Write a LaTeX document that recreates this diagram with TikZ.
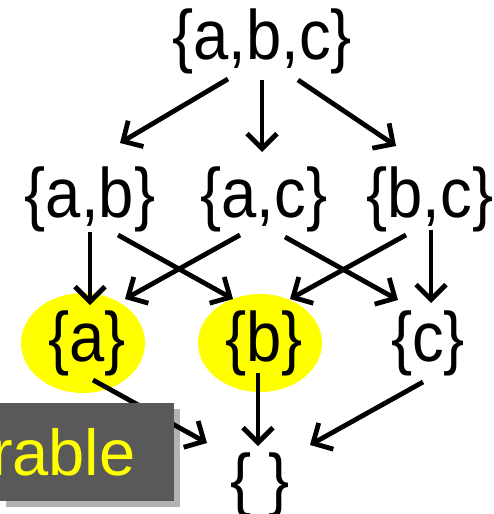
\documentclass[tikz,border=0pt]{standalone}
\usepackage{fontspec}
\setmainfont[FakeStretch=0.905]{Liberation Sans}
\newfontfamily\notefont{Liberation Sans}
\usepackage{xcolor}
\definecolor{hiyellow}{RGB}{255,255,0}
\definecolor{boxgray}{RGB}{89,89,89}
\usetikzlibrary{arrows.meta, positioning, shadows, backgrounds}

\begin{document}
\begin{tikzpicture}[x=1pt, y=-1pt, on grid,
        set/.style={inner sep=2pt, font=\fontsize{70}{76}\selectfont},
        line/.style={draw=black, line width=4.8pt, -{Straight Barb[length=15pt, width=30pt]}},
        hilite/.style={fill=hiyellow},
        note/.style={fill=boxgray, text=hiyellow, font=\notefont\fontsize{65}{70}\selectfont, minimum width=174pt, minimum height=98pt, text width=174pt, inner xsep=0pt, align=left, drop shadow={shadow xshift=6pt, shadow yshift=-6pt, fill=black, opacity=0.3}}]

    \useasboundingbox (0,0) rectangle (494,514);

    % Fila 1
    \node [set] (abc) at (262,41) {\{a,b,c\}};

    % Fila 2
    \node [set, below left=158pt and 172pt of abc] (ab) {\{a,b\}};
    \node [set, right=174pt of ab] (ac) {\{a,c\}};
    \node [set, right=166pt of ac] (bc) {\{b,c\}};

    % Fila 3
    \node [set, below left=144pt and 3pt of ab] (a) {\{a\}};
    \node [set, right=177pt of a] (b) {\{b\}};
    \node [set, right=164pt of b] (c) {\{c\}};

    % Fila 4
    \node [set, below left=142pt and 4pt of b] (empty) {\{ \}};

    % Resaltado
    \begin{scope}[on background layer]
        \fill [hilite] ([xshift=-4pt]a.center) ellipse [x radius=62pt, y radius=50pt];
        \fill [hilite] ([xshift=-4pt]b.center) ellipse [x radius=62pt, y radius=49pt];
    \end{scope}

    \path [line] ([shift={(-34,38)}]abc.center) -- ([shift={(30,-56)}]ab.center);
    \path [line] ([shift={(0,39)}]abc.center) -- ([shift={(-2,-47)}]ac.center);
    \path [line] ([shift={(36,39)}]abc.center) -- ([shift={(-34,-53)}]bc.center);

    \path [line] ([shift={(0,33)}]ab.center) -- ([shift={(3,-38)}]a.center);
    \path [line] ([shift={(28,36)}]ab.center) -- ([shift={(-31,-44)}]b.center);
    \path [line] ([shift={(-24,36)}]ac.center) -- ([shift={(38,-44)}]a.center);
    \path [line] ([shift={(21,38)}]ac.center) -- ([shift={(-30,-43)}]c.center);
    \path [line] ([shift={(-24,36)}]bc.center) -- ([shift={(26,-44)}]b.center);
    \path [line] ([shift={(1,31)}]bc.center) -- ([shift={(3,-40)}]c.center);

    \path [line] ([shift={(6,37)}]a.center) -- ([shift={(-53,-42)}]empty.center);
    \path [line] ([shift={(-6,30)}]b.center) -- ([shift={(-2,-39)}]empty.center);
    \path [line] ([shift={(-5,39)}]c.center) -- ([shift={(50,-40)}]empty.center);

    % Etiqueta
    \node [note] (tag) at (87,452) {\hspace*{-9pt}rable};
\end{tikzpicture}
\end{document}
